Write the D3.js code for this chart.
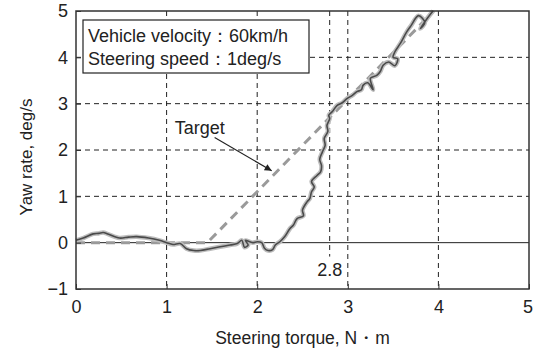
<!DOCTYPE html>
<html>
<head>
<meta charset="utf-8">
<script src="https://cdn.jsdelivr.net/npm/d3@7"></script>
<style>
  body { margin: 0; background: #fff; }
  svg { display: block; font-family: "Liberation Sans", Arial, sans-serif; }
</style>
</head>
<body>
<div class="chart"></div>
<script>
// ticks
const xTicks = [0, 1, 2, 3, 4, 5];
const yTicks = [-1, 0, 1, 2, 3, 4, 5];
const xGrid = [1, 2, 3, 4];
const yGrid = [1, 2, 3, 4];

// target line (torque, yaw rate)
const targetX = [0, 1.45, 3.95];
const targetY = [0, 0, 5];

const measX = [0.0, 0.08, 0.19, 0.25, 0.3, 0.36, 0.48, 0.58, 0.67, 0.8, 0.92, 1.0, 1.07, 1.15, 1.22, 1.3, 1.37, 1.48, 1.59, 1.7, 1.78, 1.83, 1.86, 1.9, 1.87, 1.95, 2.0, 2.05, 2.08, 2.12, 2.17, 2.2, 2.25, 2.3, 2.36, 2.4, 2.44, 2.51, 2.5, 2.55, 2.58, 2.6, 2.63, 2.6, 2.66, 2.7, 2.71, 2.69, 2.72, 2.75, 2.74, 2.78, 2.77, 2.8, 2.79, 2.83, 2.88, 2.94, 2.99, 3.05, 3.1, 3.15, 3.17, 3.22, 3.28, 3.25, 3.32, 3.36, 3.39, 3.45, 3.52, 3.55, 3.5, 3.52, 3.58, 3.65, 3.7, 3.78, 3.85, 3.8, 3.88, 3.94];
const measY = [0.05, 0.1, 0.19, 0.2, 0.22, 0.18, 0.1, 0.12, 0.13, 0.1, 0.05, 0.0, -0.04, -0.02, -0.13, -0.17, -0.17, -0.13, -0.09, -0.05, -0.02, 0.05, -0.1, -0.05, 0.05, 0.0, 0.02, 0.0, -0.12, -0.17, -0.15, -0.05, 0.02, 0.12, 0.3, 0.38, 0.52, 0.58, 0.7, 0.88, 0.95, 1.1, 1.2, 1.32, 1.45, 1.53, 1.66, 1.8, 1.96, 2.1, 2.25, 2.4, 2.53, 2.68, 2.75, 2.83, 2.96, 3.02, 3.11, 3.18, 3.26, 3.3, 3.4, 3.45, 3.3, 3.55, 3.61, 3.7, 3.83, 3.9, 3.82, 3.97, 4.0, 4.12, 4.3, 4.55, 4.69, 4.9, 4.75, 4.62, 4.85, 5.0];

const W = 533, H = 353;
const margin = {left: 76, right: 4, top: 11, bottom: 64};

const svg = d3.select(".chart").append("svg")
    .attr("width", W)
    .attr("height", H);

const x = d3.scaleLinear().domain([0, 5]).range([margin.left, W - margin.right]);
const y = d3.scaleLinear().domain([-1, 5]).range([H - margin.bottom, margin.top]);

const ink = "#222";

// grid
svg.append("g").selectAll("line")
    .data(xGrid)
    .enter().append("line")
    .attr("x1", d => x(d)).attr("x2", d => x(d))
    .attr("y1", y(5)).attr("y2", y(-1))
    .attr("stroke", ink).attr("stroke-width", 1)
    .attr("stroke-dasharray", "5,4");

svg.append("g").selectAll("line")
    .data(yGrid)
    .enter().append("line")
    .attr("x1", x(0)).attr("x2", x(5))
    .attr("y1", d => y(d)).attr("y2", d => y(d))
    .attr("stroke", ink).attr("stroke-width", 1)
    .attr("stroke-dasharray", "5,4");

// zero line
svg.append("line")
    .attr("x1", x(0)).attr("x2", x(5))
    .attr("y1", y(0)).attr("y2", y(0))
    .attr("stroke", ink).attr("stroke-width", 1);

// 2.8 marker
svg.append("line")
    .attr("x1", x(2.8)).attr("x2", x(2.8))
    .attr("y1", y(5)).attr("y2", y(-0.3))
    .attr("stroke", ink).attr("stroke-width", 1)
    .attr("stroke-dasharray", "5,4");
svg.append("text")
    .attr("x", x(2.8)).attr("y", y(-0.72))
    .attr("text-anchor", "middle")
    .attr("font-size", 18).attr("fill", ink)
    .text("2.8");

// target
const target = targetX.map((d, i) => [d, targetY[i]]);
svg.append("path")
    .datum(target)
    .attr("d", d3.line().x(d => x(d[0])).y(d => y(d[1])))
    .attr("fill", "none")
    .attr("stroke", "#9a9a9a").attr("stroke-width", 3)
    .attr("stroke-dasharray", "9,6");

// measured
const meas = measX.map((d, i) => [d, measY[i]]);
const measLine = d3.line().x(d => x(d[0])).y(d => y(d[1])).curve(d3.curveCatmullRom);
svg.append("path")
    .datum(meas)
    .attr("d", measLine)
    .attr("fill", "none")
    .attr("stroke", "#bdbdbd").attr("stroke-width", 4.5)
    .attr("stroke-linejoin", "round");
svg.append("path")
    .datum(meas)
    .attr("d", measLine)
    .attr("fill", "none")
    .attr("stroke", "#4a4a4a").attr("stroke-width", 1.6)
    .attr("stroke-linejoin", "round");

// frame
svg.append("rect")
    .attr("x", x(0)).attr("y", y(5))
    .attr("width", x(5) - x(0)).attr("height", y(-1) - y(5))
    .attr("fill", "none").attr("stroke", "#333").attr("stroke-width", 1.5);

// axes (ticks inward)
const xAxis = d3.axisBottom(x).tickValues(xTicks).tickSize(-5).tickPadding(11).tickFormat(d3.format("d"));
const yAxis = d3.axisLeft(y).tickValues(yTicks).tickSize(-5).tickPadding(8).tickFormat(d3.format("d"));

const gx = svg.append("g")
    .attr("transform", "translate(0," + y(-1) + ")")
    .call(xAxis);
const gy = svg.append("g")
    .attr("transform", "translate(" + x(0) + ",0)")
    .call(yAxis);
[gx, gy].forEach(g => {
    g.select(".domain").remove();
    g.selectAll("line").attr("stroke", "#333");
    g.selectAll("text").attr("font-size", 18).attr("fill", ink)
        .attr("font-family", "Liberation Sans, Arial, sans-serif");
});
// last x label sits on the right edge; pull it in a little
gx.selectAll(".tick text").filter(d => d === 5).attr("dx", "-1.5");

// axis titles
svg.append("text")
    .attr("x", (x(0) + x(5)) / 2).attr("y", 344)
    .attr("text-anchor", "middle")
    .attr("font-size", 17.5).attr("fill", ink)
    .text("Steering torque, N・m");
svg.append("text")
    .attr("transform", "translate(32,157) rotate(-90)")
    .attr("text-anchor", "middle")
    .attr("font-size", 17).attr("fill", ink)
    .text("Yaw rate, deg/s");

// legend box
const lg = svg.append("g").attr("transform", "translate(" + (x(0) + 7) + "," + (y(5) + 9) + ")");
lg.append("rect")
    .attr("width", 226).attr("height", 53)
    .attr("fill", "#fff").attr("stroke", "#222").attr("stroke-width", 1.2);
lg.append("text").attr("x", 5).attr("y", 22)
    .attr("font-size", 18).attr("fill", ink)
    .text("Vehicle velocity：60km/h");
lg.append("text").attr("x", 5).attr("y", 45)
    .attr("font-size", 18).attr("fill", ink)
    .text("Steering speed：1deg/s");

// target annotation
svg.append("defs").append("marker")
    .attr("id", "arrow")
    .attr("viewBox", "0 0 10 10")
    .attr("refX", 10).attr("refY", 5)
    .attr("markerWidth", 10).attr("markerHeight", 7)
    .attr("markerUnits", "userSpaceOnUse")
    .attr("orient", "auto")
    .append("path").attr("d", "M0,0 L10,5 L0,10 z").attr("fill", ink);

svg.append("text")
    .attr("x", x(1.09)).attr("y", y(2.35))
    .attr("font-size", 18).attr("fill", ink)
    .text("Target");
svg.append("line")
    .attr("x1", x(1.53)).attr("y1", y(2.27))
    .attr("x2", x(2.16)).attr("y2", y(1.55))
    .attr("stroke", ink).attr("stroke-width", 1.2)
    .attr("marker-end", "url(#arrow)");
</script>
</body>
</html>
